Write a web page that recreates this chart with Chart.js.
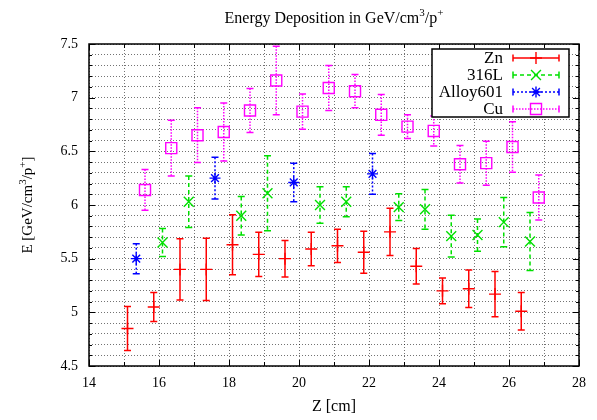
<!DOCTYPE html>
<html>
<head>
<meta charset="utf-8">
<script src="https://cdn.jsdelivr.net/npm/chart.js@4.4.0/dist/chart.umd.min.js"></script>
<style>
  html, body { margin: 0; padding: 0; background: #fff; }
  canvas { display: block; }
</style>
</head>
<body>
<canvas id="chart" width="597" height="420"></canvas>
<script>
// Data (Z in cm, E in GeV/cm^3/p+, symmetric error)
const znZ   = [15.1, 15.85, 16.6, 17.35, 18.1, 18.85, 19.6, 20.35, 21.1, 21.85, 22.6, 23.35, 24.1, 24.85, 25.6, 26.35];
const znE   = [4.85, 5.05, 5.40, 5.40, 5.63, 5.54, 5.50, 5.59, 5.62, 5.56, 5.75, 5.43, 5.20, 5.22, 5.17, 5.01];
const znErr = [0.205, 0.135, 0.285, 0.29, 0.28, 0.205, 0.17, 0.155, 0.155, 0.195, 0.22, 0.165, 0.12, 0.175, 0.21, 0.175];

const sslZ   = [16.1, 16.85, 18.35, 19.1, 20.6, 21.35, 22.85, 23.6, 24.35, 25.1, 25.85, 26.6];
const sslE   = [5.65, 6.03, 5.90, 6.11, 6.00, 6.03, 5.98, 5.96, 5.71, 5.72, 5.84, 5.66];
const sslErr = [0.13, 0.24, 0.18, 0.35, 0.17, 0.14, 0.125, 0.185, 0.195, 0.15, 0.23, 0.27];

const alloyZ   = [15.35, 17.6, 19.85, 22.1];
const alloyE   = [5.50, 6.25, 6.21, 6.29];
const alloyErr = [0.14, 0.195, 0.18, 0.19];

const cuZ   = [15.6, 16.35, 17.1, 17.85, 18.6, 19.35, 20.1, 20.85, 21.6, 22.35, 23.1, 23.85, 24.6, 25.35, 26.1, 26.85];
const cuE   = [6.14, 6.53, 6.65, 6.68, 6.88, 7.16, 6.87, 7.09, 7.06, 6.84, 6.73, 6.69, 6.38, 6.39, 6.54, 6.07];
const cuErr = [0.19, 0.26, 0.255, 0.27, 0.205, 0.32, 0.165, 0.21, 0.155, 0.19, 0.11, 0.14, 0.175, 0.205, 0.235, 0.21];

const seriesLabels = ['Zn', '316L', 'Alloy601', 'Cu'];
const xRange = [14, 28];
const yRange = [4.5, 7.5];

const FONT = "'Liberation Serif', 'Times New Roman', serif";

function toPoints(xs, ys) {
    return xs.map((x, i) => ({ x: x, y: ys[i] }));
}

function makeSet(label, xs, ys, errs, color, style, radius, dash) {
    return {
        label: label,
        data: toPoints(xs, ys),
        errors: errs,
        errDash: dash,
        borderColor: color,
        backgroundColor: 'rgba(0,0,0,0)',
        pointStyle: style,
        pointRadius: radius,
        pointBorderWidth: 1.4,
        showLine: false
    };
}

// draw text with superscript parts
function richText(ctx, parts, x, y, align, size) {
    const big = size + 'px ' + FONT, small = Math.round(size * 0.7) + 'px ' + FONT;
    const rise = Math.round(size * 0.42);
    let total = 0;
    parts.forEach(p => { ctx.font = p.sup ? small : big; total += ctx.measureText(p.t).width; });
    let cx = align === 'center' ? x - total / 2 : (align === 'right' ? x - total : x);
    ctx.textAlign = 'left';
    ctx.textBaseline = 'alphabetic';
    parts.forEach(p => {
        ctx.font = p.sup ? small : big;
        ctx.fillText(p.t, cx, p.sup ? y - rise : y);
        cx += ctx.measureText(p.t).width;
    });
}

function drawMarkerSample(ctx, ds, x, y) {
    ctx.fillStyle = 'rgba(0,0,0,0)';
    ctx.strokeStyle = ds.borderColor;
    ctx.lineWidth = ds.pointBorderWidth;
    Chart.helpers.drawPoint(ctx, {
        pointStyle: ds.pointStyle,
        radius: ds.pointRadius,
        borderWidth: ds.pointBorderWidth
    }, x, y);
}

const errorBars = {
    id: 'errorBars',
    beforeDatasetsDraw(chart) {
        const ctx = chart.ctx, xs = chart.scales.x, ys = chart.scales.y;
        ctx.save();
        chart.data.datasets.forEach(ds => {
            ctx.strokeStyle = ds.borderColor;
            ctx.lineWidth = 1.5;
            ds.data.forEach((p, i) => {
                const px = xs.getPixelForValue(p.x);
                const top = ys.getPixelForValue(p.y + ds.errors[i]);
                const bot = ys.getPixelForValue(p.y - ds.errors[i]);
                ctx.setLineDash(ds.errDash);
                ctx.beginPath();
                ctx.moveTo(px, top);
                ctx.lineTo(px, bot);
                ctx.stroke();
                ctx.setLineDash([]);
                ctx.beginPath();
                ctx.moveTo(px - 3.5, top); ctx.lineTo(px + 3.5, top);
                ctx.moveTo(px - 3.5, bot); ctx.lineTo(px + 3.5, bot);
                ctx.stroke();
            });
        });
        ctx.restore();
    }
};

const frameAndText = {
    id: 'frameAndText',
    afterDraw(chart) {
        const ctx = chart.ctx, a = chart.chartArea;
        const xs = chart.scales.x, ys = chart.scales.y;
        ctx.save();
        ctx.fillStyle = '#000';

        // inward ticks
        ctx.strokeStyle = '#000';
        ctx.lineWidth = 1;
        ctx.beginPath();
        xs.ticks.forEach(t => {
            const px = Math.round(xs.getPixelForValue(t.value)) + 0.5;
            const len = t.value % 2 === 0 ? 6 : 4;
            ctx.moveTo(px, a.bottom); ctx.lineTo(px, a.bottom - len);
            ctx.moveTo(px, a.top); ctx.lineTo(px, a.top + len);
        });
        ys.ticks.forEach(t => {
            const py = Math.round(ys.getPixelForValue(t.value)) + 0.5;
            const major = Math.abs(t.value * 2 - Math.round(t.value * 2)) < 1e-6;
            const len = major ? 6 : 3;
            ctx.moveTo(a.left, py); ctx.lineTo(a.left + len, py);
            ctx.moveTo(a.right, py); ctx.lineTo(a.right - len, py);
        });
        ctx.stroke();

        // frame
        ctx.lineWidth = 1.5;
        ctx.strokeRect(a.left, a.top, a.right - a.left, a.bottom - a.top);

        // title
        const mid = (a.left + a.right) / 2;
        richText(ctx, [
            { t: 'Energy Deposition in GeV/cm' }, { t: '3', sup: true },
            { t: '/p' }, { t: '+', sup: true }
        ], mid, 23, 'center', 16);

        // x title
        ctx.font = '16px ' + FONT;
        ctx.textAlign = 'center';
        ctx.textBaseline = 'alphabetic';
        ctx.fillText('Z [cm]', mid, 411);

        // y title
        ctx.save();
        ctx.translate(32, (a.top + a.bottom) / 2);
        ctx.rotate(-Math.PI / 2);
        richText(ctx, [
            { t: 'E [GeV/cm' }, { t: '3', sup: true },
            { t: '/p' }, { t: '+', sup: true }, { t: ']' }
        ], 0, 0, 'center', 15);
        ctx.restore();

        // legend box
        const lx = 432, ly = 49, lw = 137, lh = 68;
        ctx.fillStyle = '#fff';
        ctx.fillRect(lx, ly, lw, lh);
        ctx.lineWidth = 1.5;
        ctx.strokeStyle = '#000';
        ctx.strokeRect(lx, ly, lw, lh);
        chart.data.datasets.forEach((ds, i) => {
            const ry = 58 + i * 17;
            ctx.fillStyle = '#000';
            ctx.font = '17px ' + FONT;
            ctx.textAlign = 'right';
            ctx.textBaseline = 'middle';
            ctx.fillText(ds.label, 503, ry + 1);
            ctx.strokeStyle = ds.borderColor;
            ctx.lineWidth = 1.5;
            ctx.setLineDash(ds.errDash);
            ctx.beginPath();
            ctx.moveTo(513, ry); ctx.lineTo(559, ry);
            ctx.stroke();
            ctx.setLineDash([]);
            ctx.beginPath();
            ctx.moveTo(513, ry - 3.5); ctx.lineTo(513, ry + 3.5);
            ctx.moveTo(559, ry - 3.5); ctx.lineTo(559, ry + 3.5);
            ctx.stroke();
            drawMarkerSample(ctx, ds, 536, ry);
        });
        ctx.restore();
    }
};

const datasets = [
    makeSet(seriesLabels[0], znZ, znE, znErr, '#ff0000', 'cross', 6, []),
    makeSet(seriesLabels[1], sslZ, sslE, sslErr, '#00e000', 'crossRot', 7, [4, 3]),
    makeSet(seriesLabels[2], alloyZ, alloyE, alloyErr, '#0000ff', 'star', 5.5, [2, 2]),
    makeSet(seriesLabels[3], cuZ, cuE, cuErr, '#ff00ff', 'rect', 7.8, [1.5, 1.5])
];

new Chart(document.getElementById('chart').getContext('2d'), {
    type: 'scatter',
    data: { datasets: datasets },
    options: {
        responsive: false,
        animation: false,
        events: [],
        layout: { padding: { top: 44, right: 18, left: 0, bottom: 0 } },
        plugins: {
            legend: { display: false },
            title: { display: false },
            tooltip: { enabled: false }
        },
        scales: {
            x: {
                type: 'linear',
                min: xRange[0],
                max: xRange[1],
                afterFit: s => { s.height = 54; },
                grid: { color: 'rgba(0,0,0,0.55)', lineWidth: 1, drawTicks: false },
                border: { display: false, dash: [1, 2] },
                ticks: {
                    stepSize: 1,
                    autoSkip: false,
                    maxRotation: 0,
                    padding: 9,
                    color: '#000',
                    font: { family: FONT, size: 14 },
                    callback: v => (v % 2 === 0 ? String(v) : '')
                }
            },
            y: {
                type: 'linear',
                min: yRange[0],
                max: yRange[1],
                afterFit: s => { s.width = 89; },
                grid: { color: 'rgba(0,0,0,0.55)', lineWidth: 1, drawTicks: false },
                border: { display: false, dash: [1, 2] },
                ticks: {
                    stepSize: 0.1,
                    autoSkip: false,
                    padding: 11,
                    color: '#000',
                    font: { family: FONT, size: 14 },
                    callback: v => {
                        const h = Math.round(v * 2);
                        return Math.abs(v * 2 - h) < 1e-6 ? String(h / 2) : '';
                    }
                }
            }
        }
    },
    plugins: [errorBars, frameAndText]
});
</script>
</body>
</html>
